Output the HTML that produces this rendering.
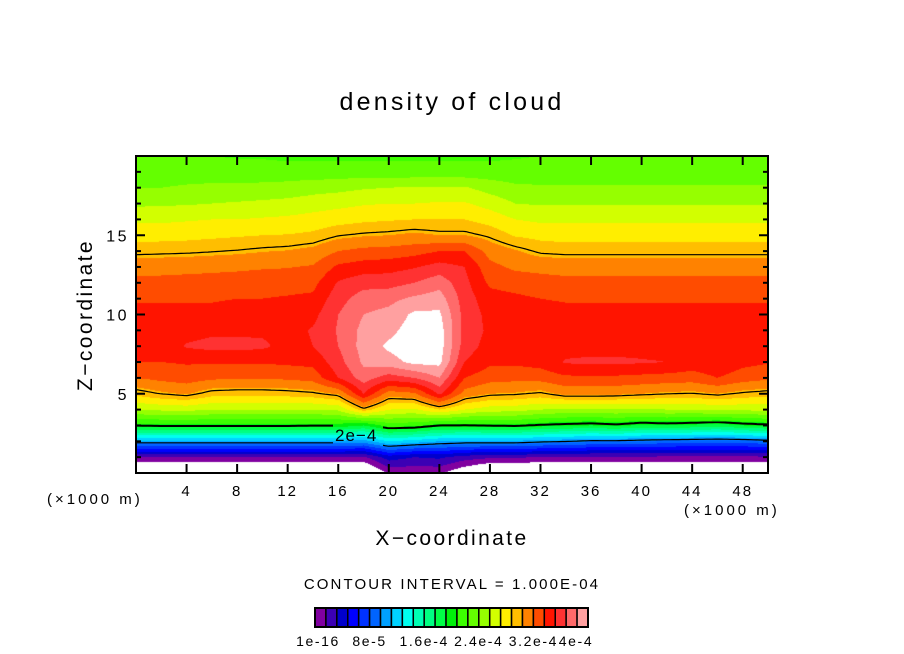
<!DOCTYPE html>
<html><head><meta charset="utf-8"><style>
html,body{margin:0;padding:0;background:#fff;}
#root{position:relative;width:904px;height:654px;overflow:hidden;background:#fff;font-family:"Liberation Sans",sans-serif;color:#000;}
.t{position:absolute;white-space:nowrap;}
</style></head><body>
<div id="root">
<div class="t" style="left:0;width:904px;top:88px;text-align:center;font-size:25px;letter-spacing:3.2px;">density of cloud</div>
<div class="t" style="left:86px;top:315px;font-size:21px;transform:translate(-50%,-50%) rotate(-90deg);letter-spacing:2.4px;">Z−coordinate</div>
<div class="t" style="left:0;width:904px;top:527px;text-align:center;font-size:21px;letter-spacing:2.4px;">X−coordinate</div>
<div class="t" style="left:47px;top:491px;font-size:15px;letter-spacing:3px;">(×1000 m)</div>
<div class="t" style="left:684px;top:502px;font-size:15px;letter-spacing:3px;">(×1000 m)</div>
<div class="t" style="left:0;width:904px;top:576px;text-align:center;font-size:15px;letter-spacing:2.1px;">CONTOUR INTERVAL = 1.000E-04</div>
<canvas id="fill" width="632" height="317" style="position:absolute;left:136px;top:156px;"></canvas>
<svg id="svg" width="904" height="654" style="position:absolute;left:0;top:0;">
<defs><mask id="lblmask"><rect x="0" y="0" width="904" height="654" fill="#fff"/><rect x="333" y="420" width="50" height="26" fill="#000"/></mask></defs>
</svg>
</div>
<script>
const xKm = [0,2,4,6,8,10,12,14,16,18,20,22,24,26,28,30,32,34,36,38,40,42,44,46,48,50];
const zKm = [0,1,2,3,4,5,6,7,8,9,10,11,12,13,14,15,16,17,18,19,20];
const densityByColumn = [
[-2,1.0,6.8,12.6,16.0,18.3,20.0,21.0,21.3,21.5,21.3,20.9,20.3,19.6,18.5,17.6,16.8,15.8,15.0,14.6,14.2],
[-2,1.0,6.8,12.7,16.2,18.8,20.3,21.0,21.4,21.5,21.3,20.9,20.3,19.65,18.55,17.65,16.8,15.85,15.0,14.6,14.2],
[-2,1.0,6.8,12.7,16.3,19.1,20.5,21.1,22.1,21.6,21.3,20.9,20.35,19.7,18.6,17.7,16.9,15.9,15.1,14.6,14.1],
[-2,1.0,6.8,12.7,16.0,18.4,20.2,21.1,22.3,21.8,21.3,20.9,20.4,19.75,18.7,17.8,17.0,16.0,15.2,14.5,14.0],
[-2,1.0,6.8,12.7,16.0,18.3,20.1,21.1,22.3,21.8,21.4,21.0,20.5,19.8,18.8,17.9,17.0,16.1,15.2,14.5,13.9],
[-2,1.0,6.8,12.7,16.0,18.3,20.1,21.1,22.2,21.8,21.4,21.0,20.55,19.9,18.95,18.0,17.1,16.2,15.3,14.4,13.9],
[-2,1.0,6.8,12.7,16.0,18.4,20.2,21.2,21.6,21.6,21.5,21.1,20.6,19.95,19.05,18.05,17.2,16.3,15.4,14.4,13.8],
[-2,1.0,6.8,12.6,16.0,18.6,20.4,21.3,22.0,22.1,21.7,21.2,20.7,20.1,19.3,18.2,17.4,16.5,15.6,14.4,13.8],
[-2,1.0,6.8,12.6,16.2,19.1,22.0,22.6,23.0,23.1,23.0,22.6,22.1,21.2,20.0,18.7,17.6,16.7,15.7,14.4,13.8],
[-2,0.8,6.5,12.0,18.5,22.0,23.5,24.2,24.4,24.3,24.0,23.5,22.6,21.5,20.3,18.9,17.8,16.9,15.9,14.5,13.8],
[0.2,2.5,8.0,13.5,17.0,19.5,22.5,24.6,25.2,24.7,24.3,23.7,22.6,21.6,20.4,19.0,17.9,17.0,16.0,14.4,13.8],
[0.2,2.0,7.5,13.3,16.8,19.8,23.0,25.3,25.6,25.5,25.2,24.2,23.0,21.9,20.6,19.2,18.0,17.0,16.1,14.4,13.8],
[0.2,2.2,7.0,12.5,18.0,22.2,24.0,25.3,25.5,25.5,25.2,24.5,23.6,22.4,21.0,19.0,18.0,17.1,16.1,14.4,13.8],
[-1,1.5,6.8,12.5,17.0,19.6,21.0,22.0,22.5,22.6,22.6,22.5,22.3,22.0,21.0,19.0,18.0,17.1,16.1,14.4,13.8],
[-2,1.2,6.8,12.6,16.5,19.0,20.4,21.2,21.6,21.8,21.7,21.4,20.8,20.3,19.6,18.6,17.6,16.6,15.6,14.4,13.8],
[-2,1.2,6.8,12.7,16.4,18.9,20.3,21.2,21.5,21.7,21.6,21.2,20.6,19.8,19.1,17.9,17.0,16.0,15.2,14.4,13.9],
[-2,0.9,6.5,12.4,16.0,18.6,20.4,21.4,21.5,21.6,21.4,21.0,20.4,19.7,18.6,17.7,16.8,15.9,15.1,14.5,14.0],
[-2,0.8,6.3,12.2,15.8,19.3,20.8,22.1,21.6,21.5,21.3,20.9,20.3,19.6,18.5,17.6,16.8,15.9,15.1,14.5,14.0],
[-2,0.8,6.0,12.0,15.8,19.3,20.8,22.2,21.6,21.5,21.3,20.9,20.3,19.6,18.5,17.6,16.8,15.9,15.1,14.6,14.1],
[-2,0.8,6.0,12.3,15.9,19.2,20.8,22.2,21.6,21.5,21.3,20.9,20.3,19.6,18.5,17.6,16.8,15.9,15.1,14.6,14.1],
[-2,0.8,5.8,11.8,15.8,19.0,20.7,22.1,21.6,21.5,21.3,20.9,20.3,19.6,18.5,17.6,16.8,15.9,15.1,14.6,14.2],
[-2,0.8,5.6,12.0,16.0,18.8,20.6,22.0,21.6,21.5,21.3,20.9,20.3,19.6,18.5,17.6,16.8,15.9,15.1,14.6,14.2],
[-2,0.8,5.5,11.8,16.0,18.7,20.5,21.6,21.5,21.5,21.3,20.9,20.3,19.6,18.5,17.6,16.8,15.9,15.1,14.6,14.2],
[-2,0.8,5.4,11.5,16.2,19.0,21.0,21.8,21.5,21.5,21.3,20.9,20.3,19.6,18.5,17.6,16.8,15.9,15.1,14.6,14.2],
[-2,0.8,5.5,12.0,16.2,18.6,20.5,21.3,21.4,21.5,21.3,20.9,20.3,19.6,18.5,17.6,16.8,15.9,15.1,14.6,14.2],
[-2,0.8,5.8,12.3,16.3,18.4,20.2,21.1,21.3,21.5,21.3,20.9,20.3,19.6,18.5,17.6,16.8,15.9,15.1,14.6,14.2]
];
const levelColors = ["#8000a0","#3c00b4","#0000cc","#0000ff","#0032ff","#0064ff","#00a0ff","#00d2ff","#00fff0","#00ffb4","#00ff82","#00ff46","#00f00a","#3cff00","#64ff00","#96ff00","#d2ff00","#ffee00","#ffbe00","#ff8200","#ff4c00","#ff1400","#ff3232","#ff6a6a","#ffa0a0"];
const contourLevels = [6.25,12.5,18.75];
const xTickValues = [4,8,12,16,20,24,28,32,36,40,44,48];
const zTickValues = [5,10,15];
const colorbarLabels = ["1e-16","8e-5","1.6e-4","2.4e-4","3.2e-4","4e-4"];

const L=136,R=768,T=156,B=473, X0=0,X1=50,Z0=0,Z1=20;
const sx = x => L + (x-X0)/(X1-X0)*(R-L);
const sz = z => B - (z-Z0)/(Z1-Z0)*(B-T);
function field(x,z){
  const nx=xKm.length, nz=zKm.length;
  let fx=(x-xKm[0])/(xKm[1]-xKm[0]); fx=Math.max(0,Math.min(nx-1.0001,fx));
  let fz=(z-zKm[0])/(zKm[1]-zKm[0]); fz=Math.max(0,Math.min(nz-1.0001,fz));
  const i=Math.floor(fx), j=Math.floor(fz), a=fx-i, b=fz-j;
  const c=densityByColumn;
  return c[i][j]*(1-a)*(1-b)+c[i+1][j]*a*(1-b)+c[i][j+1]*(1-a)*b+c[i+1][j+1]*a*b;
}
function hex(h){return [parseInt(h.substr(1,2),16),parseInt(h.substr(3,2),16),parseInt(h.substr(5,2),16)];}
const rgb = levelColors.map(hex);
const cv=document.getElementById('fill'), ctx=cv.getContext('2d');
const W=R-L,H=B-T, img=ctx.createImageData(W,H);
for(let py=0;py<H;py++){
  const z=Z1-(py+0.5)/H*(Z1-Z0);
  for(let px=0;px<W;px++){
    const x=X0+(px+0.5)/W*(X1-X0);
    const v=field(x,z);
    let c;
    if(v<0||v>=levelColors.length) c=[255,255,255];
    else c=rgb[Math.floor(v)];
    const k=(py*W+px)*4; img.data[k]=c[0];img.data[k+1]=c[1];img.data[k+2]=c[2];img.data[k+3]=255;
  }
}
ctx.putImageData(img,0,0);

const NS="http://www.w3.org/2000/svg", svg=document.getElementById('svg');
function mk(tag,attrs){const e=document.createElementNS(NS,tag);for(const k in attrs)e.setAttribute(k,attrs[k]);svg.appendChild(e);return e;}
const step=3;
const gx=Math.ceil(W/step)+1, gz=Math.ceil(H/step)+1;
const G=[];
for(let i=0;i<gx;i++){G.push([]);for(let j=0;j<gz;j++){const px=Math.min(W,i*step),py=Math.min(H,j*step);G[i].push(field(X0+px/W*(X1-X0),Z1-py/H*(Z1-Z0)));}}
contourLevels.forEach((lev,li)=>{
  let d="";
  for(let i=0;i<gx-1;i++)for(let j=0;j<gz-1;j++){
    const p=[[i,j],[i+1,j],[i+1,j+1],[i,j+1]];
    const pts=[];
    for(let e=0;e<4;e++){
      const A=p[e],Bp=p[(e+1)%4];
      const va=G[A[0]][A[1]],vb=G[Bp[0]][Bp[1]];
      if((va<lev)!==(vb<lev)){
        const t=(lev-va)/(vb-va);
        const px=L+Math.min(W,(A[0]+(Bp[0]-A[0])*t)*step), py=T+Math.min(H,(A[1]+(Bp[1]-A[1])*t)*step);
        pts.push([px,py]);
      }
    }
    if(pts.length>=2) d+="M"+pts[0][0].toFixed(1)+" "+pts[0][1].toFixed(1)+"L"+pts[1][0].toFixed(1)+" "+pts[1][1].toFixed(1);
    if(pts.length===4) d+="M"+pts[2][0].toFixed(1)+" "+pts[2][1].toFixed(1)+"L"+pts[3][0].toFixed(1)+" "+pts[3][1].toFixed(1);
  }
  const path=mk('path',{d:d,fill:'none',stroke:'#000','stroke-width':li===1?2:1.2,mask:'url(#lblmask)'});
  
  
});
const ct=mk('text',{x:335,y:441,'font-size':17,'letter-spacing':1,'font-family':'Liberation Sans, sans-serif'});
ct.textContent="2e−4";


const fr=mk('rect',{x:L,y:T,width:R-L,height:B-T,fill:'none',stroke:'#000','stroke-width':2});


xTickValues.forEach(v=>{
  const x=sx(v);
  const t1=mk('line',{x1:x,y1:B,x2:x,y2:B-9,stroke:'#000','stroke-width':2});
  
  
  const t2=mk('line',{x1:x,y1:T,x2:x,y2:T+9,stroke:'#000','stroke-width':2});
  
  
  const lb=mk('text',{x:x,y:496,'text-anchor':'middle','font-size':15,'letter-spacing':2,'font-family':'Liberation Sans, sans-serif'});
  lb.textContent=v;
  
  
});
for(let z=1;z<20;z++){
  const y=sz(z), len=(z%5===0)?9:5;
  const a=mk('line',{x1:L,y1:y,x2:L+len,y2:y,stroke:'#000','stroke-width':2});
  
  
  const b=mk('line',{x1:R,y1:y,x2:R-len,y2:y,stroke:'#000','stroke-width':2});
  
  
}
zTickValues.forEach(v=>{
  const lb=mk('text',{x:129,y:sz(v)+6,'text-anchor':'end','font-size':16,'letter-spacing':2.5,'font-family':'Liberation Sans, sans-serif'});
  lb.textContent=v;
  
  
});
const cbL=315,cbR=588,cbT=608,cbB=627,n=levelColors.length,bw=(cbR-cbL)/n;
levelColors.forEach((c,i)=>{
  const r=mk('rect',{x:cbL+i*bw,y:cbT,width:bw,height:cbB-cbT,fill:c,stroke:'#000','stroke-width':1.5});
  
  
});
const cbf=mk('rect',{x:cbL,y:cbT,width:cbR-cbL,height:cbB-cbT,fill:'none',stroke:'#000','stroke-width':2});


colorbarLabels.forEach((s,i)=>{
  const lb=mk('text',{x:cbL+i*5*bw+(i===0?3:0)+(i===5?-12:0),y:646,'text-anchor':'middle','font-size':14,'letter-spacing':1.6,'font-family':'Liberation Sans, sans-serif'});
  lb.textContent=s;
  
  
});
</script>
</body></html>
